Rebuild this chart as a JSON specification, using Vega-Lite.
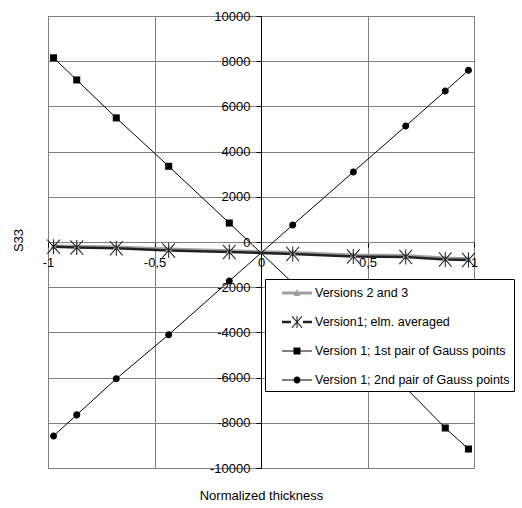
{
  "$schema": "https://vega.github.io/schema/vega-lite/v6.json",
  "width": 426,
  "height": 452,
  "autosize": "none",
  "padding": {"left": 48, "top": 16, "right": 48, "bottom": 40},
  "background": "white",
  "config": {
    "font": "Liberation Sans",
    "view": {"stroke": "#808080", "strokeWidth": 1},
    "axis": {"labelFont": "Liberation Sans", "titleFont": "Liberation Sans", "labelColor": "#000", "titleColor": "#000", "titleFontWeight": "normal", "labelFontSize": 13, "titleFontSize": 13, "gridColor": "#808080", "gridOpacity": 1, "gridWidth": 1, "tickColor": "#000", "tickSize": 5}
  },
  "data": {"values": [
    {"x": -0.9739, "y": -170, "s": "Versions 2 and 3"},
    {"x": -0.8651, "y": -195, "s": "Versions 2 and 3"},
    {"x": -0.6794, "y": -225, "s": "Versions 2 and 3"},
    {"x": -0.4334, "y": -315, "s": "Versions 2 and 3"},
    {"x": -0.1489, "y": -390, "s": "Versions 2 and 3"},
    {"x": 0.1489, "y": -470, "s": "Versions 2 and 3"},
    {"x": 0.4334, "y": -580, "s": "Versions 2 and 3"},
    {"x": 0.6794, "y": -600, "s": "Versions 2 and 3"},
    {"x": 0.8651, "y": -710, "s": "Versions 2 and 3"},
    {"x": 0.9739, "y": -740, "s": "Versions 2 and 3"},
    {"x": -0.9739, "y": -215, "s": "Version1; elm. averaged"},
    {"x": -0.8651, "y": -240, "s": "Version1; elm. averaged"},
    {"x": -0.6794, "y": -280, "s": "Version1; elm. averaged"},
    {"x": -0.4334, "y": -375, "s": "Version1; elm. averaged"},
    {"x": -0.1489, "y": -445, "s": "Version1; elm. averaged"},
    {"x": 0.1489, "y": -530, "s": "Version1; elm. averaged"},
    {"x": 0.4334, "y": -640, "s": "Version1; elm. averaged"},
    {"x": 0.6794, "y": -660, "s": "Version1; elm. averaged"},
    {"x": 0.8651, "y": -775, "s": "Version1; elm. averaged"},
    {"x": 0.9739, "y": -800, "s": "Version1; elm. averaged"},
    {"x": -0.9739, "y": 8150, "s": "Version 1; 1st pair of Gauss points"},
    {"x": -0.8651, "y": 7170, "s": "Version 1; 1st pair of Gauss points"},
    {"x": -0.6794, "y": 5490, "s": "Version 1; 1st pair of Gauss points"},
    {"x": -0.4334, "y": 3350, "s": "Version 1; 1st pair of Gauss points"},
    {"x": -0.1489, "y": 840, "s": "Version 1; 1st pair of Gauss points"},
    {"x": 0.1489, "y": -1810, "s": "Version 1; 1st pair of Gauss points"},
    {"x": 0.4334, "y": -4380, "s": "Version 1; 1st pair of Gauss points"},
    {"x": 0.6794, "y": -6450, "s": "Version 1; 1st pair of Gauss points"},
    {"x": 0.8651, "y": -8230, "s": "Version 1; 1st pair of Gauss points"},
    {"x": 0.9739, "y": -9160, "s": "Version 1; 1st pair of Gauss points"},
    {"x": -0.9739, "y": -8580, "s": "Version 1; 2nd pair of Gauss points"},
    {"x": -0.8651, "y": -7650, "s": "Version 1; 2nd pair of Gauss points"},
    {"x": -0.6794, "y": -6050, "s": "Version 1; 2nd pair of Gauss points"},
    {"x": -0.4334, "y": -4100, "s": "Version 1; 2nd pair of Gauss points"},
    {"x": -0.1489, "y": -1725, "s": "Version 1; 2nd pair of Gauss points"},
    {"x": 0.1489, "y": 750, "s": "Version 1; 2nd pair of Gauss points"},
    {"x": 0.4334, "y": 3100, "s": "Version 1; 2nd pair of Gauss points"},
    {"x": 0.6794, "y": 5130, "s": "Version 1; 2nd pair of Gauss points"},
    {"x": 0.8651, "y": 6680, "s": "Version 1; 2nd pair of Gauss points"},
    {"x": 0.9739, "y": 7600, "s": "Version 1; 2nd pair of Gauss points"}
  ]},
  "encoding": {
    "x": {"field": "x", "type": "quantitative",
      "scale": {"domain": [-1, 1], "nice": false, "zero": false},
      "axis": {"orient": "bottom", "offset": -226, "values": [-1, -0.5, 0, 0.5, 1], "grid": true,
        "labelExpr": "replace(toString(datum.value), '.', ',')", "labelPadding": 9, "labelBaseline": "top", "labelFlush": false,
        "domainColor": "#808080", "title": "Normalized thickness", "titleX": 213, "titleY": 253, "titleBaseline": "middle", "titleAnchor": null}},
    "y": {"field": "y", "type": "quantitative",
      "scale": {"domain": [-10000, 10000], "nice": false, "zero": false},
      "axis": {"orient": "left", "offset": -213, "values": [-10000, -8000, -6000, -4000, -2000, 0, 2000, 4000, 6000, 8000, 10000], "grid": true,
        "labelExpr": "toString(datum.value)", "labelPadding": 6, "labelFlush": false,
        "domainColor": "#000", "title": "S33", "titleX": -243, "titleY": 224, "titleAngle": -90, "titleBaseline": "middle", "titleAlign": "center"}},
    "color": {"field": "s", "type": "nominal",
      "scale": {"domain": ["Versions 2 and 3", "Version1; elm. averaged", "Version 1; 1st pair of Gauss points", "Version 1; 2nd pair of Gauss points"],
                "range": ["#a0a0a0", "#222222", "#000000", "#000000"]},
      "legend": {"orient": "none", "legendX": 217, "legendY": 263, "title": null,
        "strokeColor": "#000", "fillColor": "#fff", "padding": 4, "symbolSize": 400, "symbolOffset": 18, "labelOffset": 8,
        "rowPadding": 12, "labelFont": "Liberation Sans", "labelFontSize": 12.5, "labelColor": "#000", "labelLimit": 400,
        "encode": {"symbols": {"update": {
          "shape": {"signal": "datum.value === 'Versions 2 and 3' ? 'M-1.5,-0.15L1.5,-0.15L1.5,0.15L-1.5,0.15Z M0,-0.4L0.35,0.3L-0.35,0.3Z' : datum.value === 'Version1; elm. averaged' ? 'M-1.5,-0.12L-0.6,-0.12L-0.6,0.12L-1.5,0.12Z M0.6,-0.12L1.5,-0.12L1.5,0.12L0.6,0.12Z M-0.05,-0.6L0.05,-0.6L0.05,0.6L-0.05,0.6Z M-0.55,-0.55L-0.45,-0.6L0.55,0.55L0.45,0.6Z M0.55,-0.55L-0.45,0.6L-0.55,0.55L0.45,-0.6Z' : datum.value === 'Version 1; 1st pair of Gauss points' ? 'M-1.5,-0.05L1.5,-0.05L1.5,0.05L-1.5,0.05Z M-0.35,-0.35L0.35,-0.35L0.35,0.35L-0.35,0.35Z' : 'M-1.5,-0.05L1.5,-0.05L1.5,0.05L-1.5,0.05Z M-0.35,0A0.35,0.35 0 1,1 0.35,0A0.35,0.35 0 1,1 -0.35,0Z'"},
          "fill": {"signal": "datum.value === 'Versions 2 and 3' ? '#a0a0a0' : datum.value === 'Version1; elm. averaged' ? '#222222' : '#000000'"},
          "stroke": {"value": "transparent"},
          "strokeWidth": {"value": 0},
          "size": {"value": 400},
          "opacity": {"value": 1}
        }}}
      }
    }
  },
  "layer": [
    {
      "mark": {"type": "line", "strokeJoin": "miter"},
      "encoding": {
        "strokeWidth": {"condition": {"test": "datum.s === 'Versions 2 and 3'", "value": 3},
          "value": 1}
      },
      "transform": [{"filter": "datum.s !== 'Version1; elm. averaged'"}]
    },
    {
      "mark": {"type": "line", "strokeJoin": "miter", "strokeWidth": 2.5},
      "encoding": {},
      "transform": [{"filter": "datum.s === 'Version1; elm. averaged'"}]
    },
    {
      "transform": [{"filter": "datum.s === 'Versions 2 and 3'"}],
      "mark": {"type": "point", "filled": true, "size": 225, "opacity": 1, "strokeWidth": 0,
        "shape": "M0,-0.47L0.47,0.4L-0.47,0.4Z"},
      "encoding": {}
    },
    {
      "transform": [{"filter": "datum.s === 'Version1; elm. averaged'"}],
      "mark": {"type": "point", "filled": true, "size": 225, "opacity": 1, "strokeWidth": 0,
        "shape": "M-0.07,-1L0.07,-1L0.07,1L-0.07,1Z M-0.9,-0.9L-0.8,-1L0.9,0.9L0.8,1Z M0.9,-0.9L-0.8,1L-0.9,0.9L0.8,-1Z"},
      "encoding": {}
    },
    {
      "transform": [{"filter": "datum.s === 'Version 1; 1st pair of Gauss points'"}],
      "mark": {"type": "point", "filled": true, "size": 225, "opacity": 1, "strokeWidth": 0,
        "shape": "M-0.47,-0.47L0.47,-0.47L0.47,0.47L-0.47,0.47Z"},
      "encoding": {}
    },
    {
      "transform": [{"filter": "datum.s === 'Version 1; 2nd pair of Gauss points'"}],
      "mark": {"type": "point", "filled": true, "size": 225, "opacity": 1, "strokeWidth": 0,
        "shape": "M-0.47,0A0.47,0.47 0 1,1 0.47,0A0.47,0.47 0 1,1 -0.47,0Z"},
      "encoding": {}
    }
  ]
}
